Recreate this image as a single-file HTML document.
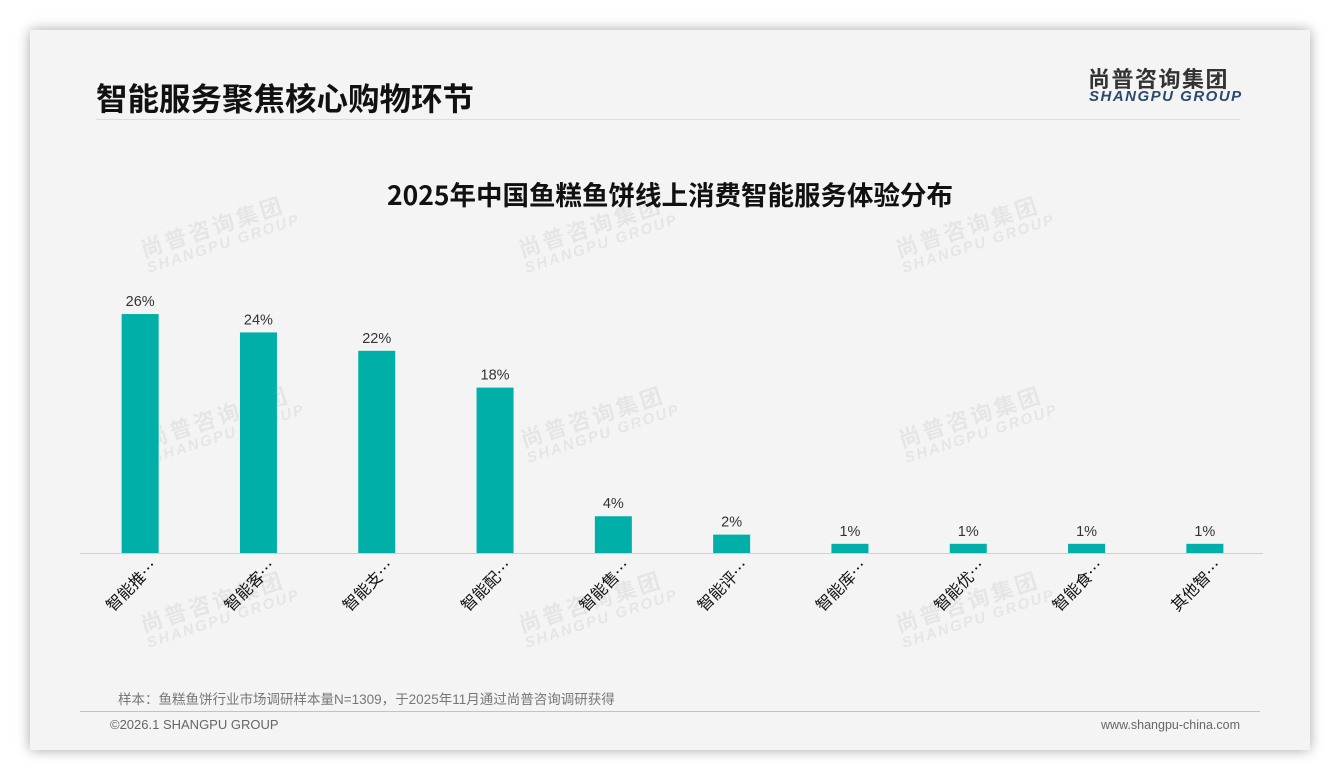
<!DOCTYPE html>
<html><head><meta charset="utf-8">
<style>
body{margin:0;width:1340px;height:780px;background:#fff;overflow:hidden;font-family:"Liberation Sans","Noto Sans CJK SC",sans-serif;}
#card{position:absolute;left:30px;top:30px;width:1280px;height:720px;background:#f4f4f4;box-shadow:0 0 12px rgba(0,0,0,0.35);}
.wm{position:absolute;color:rgba(0,0,0,0.06);font-weight:bold;transform:rotate(-18deg);line-height:1;}
.wm .a{font-size:22px;letter-spacing:3px}
.wm .b{font-size:15px;letter-spacing:2px;font-style:italic}
</style></head>
<body>
<div id="card">
  <div style="position:absolute;left:66px;top:44px;font-size:31.5px;font-weight:bold;color:#111;font-family:'Noto Sans CJK SC',sans-serif;">智能服务聚焦核心购物环节</div>
  <div style="position:absolute;left:1058px;top:32px;font-size:22px;font-weight:bold;color:#333;letter-spacing:1.5px;font-family:'Noto Sans CJK SC',sans-serif;">尚普咨询集团</div>
  <div style="position:absolute;left:1059px;top:58px;font-size:15px;font-weight:bold;font-style:italic;color:#2a4a6e;letter-spacing:1.5px;">SHANGPU GROUP</div>
  <div style="position:absolute;left:66px;top:89px;width:1144px;height:1px;background:#ddd;"></div>
  <div style="position:absolute;left:0;width:1280px;top:144px;text-align:center;font-size:26.5px;font-weight:bold;color:#111;font-family:'Noto Sans CJK SC',sans-serif;">2025年中国鱼糕鱼饼线上消费智能服务体验分布</div>
  <div style="position:absolute;left:88px;top:658px;font-size:13.5px;color:#777;">样本：鱼糕鱼饼行业市场调研样本量N=1309，于2025年11月通过尚普咨询调研获得</div>
  <div style="position:absolute;left:50px;top:681px;width:1180px;height:1px;background:#b8c4d0;"></div>
  <div style="position:absolute;left:80px;top:687px;font-size:13px;color:#666;">©2026.1 SHANGPU GROUP</div>
  <div style="position:absolute;right:70px;top:688px;font-size:12.5px;color:#666;">www.shangpu-china.com</div>
</div>
<div id="wms"></div>
<svg id="chart" width="1340" height="780" style="position:absolute;left:0;top:0;"></svg>
<script>
const categories=["智能推荐","智能客服","智能支付","智能配送","智能售后","智能评价","智能库存","智能优惠","智能食谱","其他智能"];
const labels=["智能推…","智能客…","智能支…","智能配…","智能售…","智能评…","智能库…","智能优…","智能食…","其他智…"];
const values=[26,24,22,18,4,2,1,1,1,1];
const valueLabels=["26%","24%","22%","18%","4%","2%","1%","1%","1%","1%"];
const NS="http://www.w3.org/2000/svg";
const svg=document.getElementById('chart');
const x0=80,x1=1263,baseY=553,pxPer=9.19;
const step=(x1-x0)/categories.length;
function xc(i){return x0+step*(i+0.5)+1;}
function y(v){return baseY-v*pxPer;}
const wmPos=[[140,215],[518,215],[895,215],[145,405],[520,405],[898,405],[140,590],[518,590],[895,590]];
const wms=document.getElementById('wms');
wmPos.forEach(p=>{const d=document.createElement('div');d.className='wm';d.style.left=p[0]+'px';d.style.top=p[1]+'px';


d.innerHTML='<div class="a">尚普咨询集团</div><div class="b">SHANGPU GROUP</div>';wms.appendChild(d);});
const ax=document.createElementNS(NS,'line');
ax.setAttribute('x1',x0);ax.setAttribute('x2',x1);ax.setAttribute('y1',baseY+0.5);ax.setAttribute('y2',baseY+0.5);ax.setAttribute('stroke','#d0d0d0');


svg.appendChild(ax);
values.forEach((v,i)=>{
  const r=document.createElementNS(NS,'rect');
  r.setAttribute('x',xc(i)-18.5);r.setAttribute('width',37);r.setAttribute('y',y(v));r.setAttribute('height',v*pxPer);r.setAttribute('fill','#00b0a8');
  
  
  svg.appendChild(r);
  const t=document.createElementNS(NS,'text');
  t.setAttribute('x',xc(i));t.setAttribute('y',y(v)-8);t.setAttribute('text-anchor','middle');t.setAttribute('font-size','14.5');t.setAttribute('fill','#333');
  t.textContent=valueLabels[i];
  
  
  svg.appendChild(t);
  const c=document.createElementNS(NS,'text');
  const lx=xc(i)+18,ly=baseY+14;
  c.setAttribute('x',lx);c.setAttribute('y',ly);c.setAttribute('text-anchor','end');c.setAttribute('font-size','16');c.setAttribute('fill','#111');
  c.setAttribute('font-family',"'Noto Sans CJK SC',sans-serif");
  c.setAttribute('transform','rotate(-45 '+lx+' '+ly+')');
  c.textContent=labels[i];
  
  
  svg.appendChild(c);
});
</script>
</body></html>
